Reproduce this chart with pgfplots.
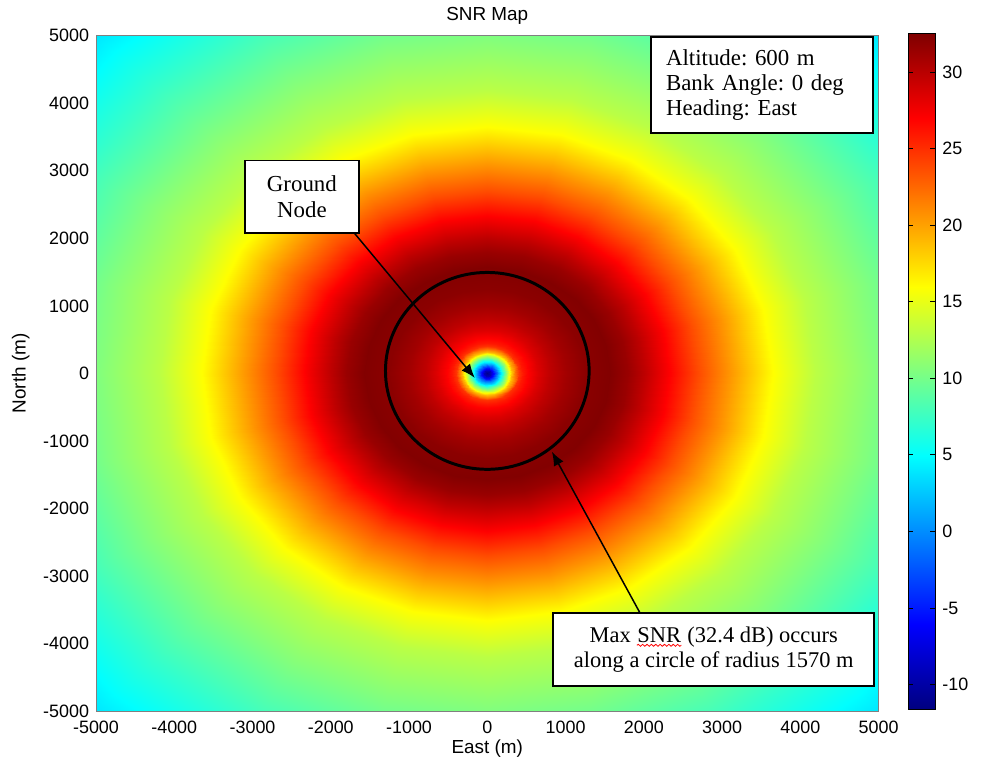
\documentclass[border=0pt]{standalone}
\usepackage{pgfplots}
\pgfplotsset{compat=1.18}
\usepackage{fontspec}
\setmainfont{Liberation Sans}
\newfontfamily\tnr{Liberation Serif}
\usetikzlibrary{arrows.meta,decorations.pathmorphing}
\pgfplotsset{/pgf/number format/1000 sep={}, /pgf/number format/assume math mode=true}
\frenchspacing
\begin{document}
\newsavebox\snrbox
\sbox\snrbox{\tnr\fontsize{11.3}{13}\selectfont\tikz[baseline=(t.base)]{\node[inner sep=0pt](t){SNR};\draw[red,line width=0.4pt,decorate,decoration={snake,amplitude=0.5pt,segment length=2.2pt}] ([yshift=-1.6pt]t.base west) -- ([yshift=-1.6pt]t.base east);}}
\begin{tikzpicture}
\begin{scope}[overlay]
\begin{axis}[
  name=main,
  scale only axis, width=393.5pt, height=339.5pt,
  view={0}{90},
  xmin=-5000, xmax=5000, ymin=-5000, ymax=5000,
  xtick={-5000,-4000,...,5000}, ytick={-5000,-4000,...,5000}, ztick=\empty,
  major tick length=0pt,
  axis line style={line width=0.4pt, black!50},
  tick label style={font=\fontsize{9}{10}\selectfont},
  xticklabel style={yshift=-1.5pt},
  label style={font=\fontsize{9.5}{11}\selectfont},
  xlabel style={yshift=4pt},
  title style={font=\fontsize{9.5}{11}\selectfont, yshift=-4pt},
  title={SNR Map},
  xlabel={East (m)}, ylabel={North (m)},
  colormap/jet, point meta min=-11.6, point meta max=32.5,
  colorbar,
  colorbar style={
    at={(parent axis.north east)}, anchor=north west, xshift=6.5pt, yshift=1pt,
    width=13.5pt,
    ytick={-10,-5,...,30},
    yticklabel pos=right,
    ytick pos=both,
    tick align=inside,
    major tick length=2.5pt,
    tick style={black, line width=0.4pt},
    yticklabel style={font=\fontsize{9}{10}\selectfont},
  },
  clip mode=individual,
]
\addplot3[surf, shader=interp, data cs=polar] table[x=a, y=r, z=z] {
a r z
0 0 -11
0 40 -9.2
0 80 -5.3
0 120 -1.2
0 160 3
0 200 7
0 240 11
0 280 15
0 320 19
0 360 22
0 400 24.8
0 450 26
0 520 27
0 650 28.5
0 800 29.8
0 1000 31
0 1250 32
0 1570 32.4
0 1800 31.4
0 2000 29.9
0 2300 27.3
0 2700 23.7
0 3100 20.5
0 3650 16
0 4200 13
0 5000 10.5
0 6000 7.2
0 7200 3.5

15 0 -11
15 40 -9.2
15 80 -5.3
15 120 -1.2
15 160 3
15 200 7
15 240 11
15 280 15
15 320 19
15 360 22
15 400 24.8
15 450 26
15 520 27
15 650 28.5
15 800 29.8
15 1000 31
15 1250 32
15 1570 32.4
15 1800 31.4
15 2000 29.9
15 2300 27.3
15 2700 23.7
15 3100 20.5
15 3650 16
15 4200 13
15 5000 10.5
15 6000 7.2
15 7200 3.5

30 0 -11
30 40 -9.2
30 80 -5.3
30 120 -1.2
30 160 3
30 200 7
30 240 11
30 280 15
30 320 19
30 360 22
30 400 24.8
30 450 26
30 520 27
30 650 28.5
30 800 29.8
30 1000 31
30 1250 32
30 1570 32.4
30 1800 31.4
30 2000 29.9
30 2300 27.3
30 2700 23.7
30 3100 20.5
30 3650 16
30 4200 13
30 5000 10.5
30 6000 7.2
30 7200 3.5

45 0 -11
45 40 -9.2
45 80 -5.3
45 120 -1.2
45 160 3
45 200 7
45 240 11
45 280 15
45 320 19
45 360 22
45 400 24.8
45 450 26
45 520 27
45 650 28.5
45 800 29.8
45 1000 31
45 1250 32
45 1570 32.4
45 1800 31.4
45 2000 29.9
45 2300 27.3
45 2700 23.7
45 3100 20.5
45 3650 16
45 4200 13
45 5000 10.5
45 6000 7.2
45 7200 3.5

60 0 -11
60 40 -9.2
60 80 -5.3
60 120 -1.2
60 160 3
60 200 7
60 240 11
60 280 15
60 320 19
60 360 22
60 400 24.8
60 450 26
60 520 27
60 650 28.5
60 800 29.8
60 1000 31
60 1250 32
60 1570 32.4
60 1800 31.4
60 2000 29.9
60 2300 27.3
60 2700 23.7
60 3100 20.5
60 3650 16
60 4200 13
60 5000 10.5
60 6000 7.2
60 7200 3.5

75 0 -11
75 40 -9.2
75 80 -5.3
75 120 -1.2
75 160 3
75 200 7
75 240 11
75 280 15
75 320 19
75 360 22
75 400 24.8
75 450 26
75 520 27
75 650 28.5
75 800 29.8
75 1000 31
75 1250 32
75 1570 32.4
75 1800 31.4
75 2000 29.9
75 2300 27.3
75 2700 23.7
75 3100 20.5
75 3650 16
75 4200 13
75 5000 10.5
75 6000 7.2
75 7200 3.5

90 0 -11
90 40 -9.2
90 80 -5.3
90 120 -1.2
90 160 3
90 200 7
90 240 11
90 280 15
90 320 19
90 360 22
90 400 24.8
90 450 26
90 520 27
90 650 28.5
90 800 29.8
90 1000 31
90 1250 32
90 1570 32.4
90 1800 31.4
90 2000 29.9
90 2300 27.3
90 2700 23.7
90 3100 20.5
90 3650 16
90 4200 13
90 5000 10.5
90 6000 7.2
90 7200 3.5

105 0 -11
105 40 -9.2
105 80 -5.3
105 120 -1.2
105 160 3
105 200 7
105 240 11
105 280 15
105 320 19
105 360 22
105 400 24.8
105 450 26
105 520 27
105 650 28.5
105 800 29.8
105 1000 31
105 1250 32
105 1570 32.4
105 1800 31.4
105 2000 29.9
105 2300 27.3
105 2700 23.7
105 3100 20.5
105 3650 16
105 4200 13
105 5000 10.5
105 6000 7.2
105 7200 3.5

120 0 -11
120 40 -9.2
120 80 -5.3
120 120 -1.2
120 160 3
120 200 7
120 240 11
120 280 15
120 320 19
120 360 22
120 400 24.8
120 450 26
120 520 27
120 650 28.5
120 800 29.8
120 1000 31
120 1250 32
120 1570 32.4
120 1800 31.4
120 2000 29.9
120 2300 27.3
120 2700 23.7
120 3100 20.5
120 3650 16
120 4200 13
120 5000 10.5
120 6000 7.2
120 7200 3.5

135 0 -11
135 40 -9.2
135 80 -5.3
135 120 -1.2
135 160 3
135 200 7
135 240 11
135 280 15
135 320 19
135 360 22
135 400 24.8
135 450 26
135 520 27
135 650 28.5
135 800 29.8
135 1000 31
135 1250 32
135 1570 32.4
135 1800 31.4
135 2000 29.9
135 2300 27.3
135 2700 23.7
135 3100 20.5
135 3650 16
135 4200 13
135 5000 10.5
135 6000 7.2
135 7200 3.5

150 0 -11
150 40 -9.2
150 80 -5.3
150 120 -1.2
150 160 3
150 200 7
150 240 11
150 280 15
150 320 19
150 360 22
150 400 24.8
150 450 26
150 520 27
150 650 28.5
150 800 29.8
150 1000 31
150 1250 32
150 1570 32.4
150 1800 31.4
150 2000 29.9
150 2300 27.3
150 2700 23.7
150 3100 20.5
150 3650 16
150 4200 13
150 5000 10.5
150 6000 7.2
150 7200 3.5

165 0 -11
165 40 -9.2
165 80 -5.3
165 120 -1.2
165 160 3
165 200 7
165 240 11
165 280 15
165 320 19
165 360 22
165 400 24.8
165 450 26
165 520 27
165 650 28.5
165 800 29.8
165 1000 31
165 1250 32
165 1570 32.4
165 1800 31.4
165 2000 29.9
165 2300 27.3
165 2700 23.7
165 3100 20.5
165 3650 16
165 4200 13
165 5000 10.5
165 6000 7.2
165 7200 3.5

180 0 -11
180 40 -9.2
180 80 -5.3
180 120 -1.2
180 160 3
180 200 7
180 240 11
180 280 15
180 320 19
180 360 22
180 400 24.8
180 450 26
180 520 27
180 650 28.5
180 800 29.8
180 1000 31
180 1250 32
180 1570 32.4
180 1800 31.4
180 2000 29.9
180 2300 27.3
180 2700 23.7
180 3100 20.5
180 3650 16
180 4200 13
180 5000 10.5
180 6000 7.2
180 7200 3.5

195 0 -11
195 40 -9.2
195 80 -5.3
195 120 -1.2
195 160 3
195 200 7
195 240 11
195 280 15
195 320 19
195 360 22
195 400 24.8
195 450 26
195 520 27
195 650 28.5
195 800 29.8
195 1000 31
195 1250 32
195 1570 32.4
195 1800 31.4
195 2000 29.9
195 2300 27.3
195 2700 23.7
195 3100 20.5
195 3650 16
195 4200 13
195 5000 10.5
195 6000 7.2
195 7200 3.5

210 0 -11
210 40 -9.2
210 80 -5.3
210 120 -1.2
210 160 3
210 200 7
210 240 11
210 280 15
210 320 19
210 360 22
210 400 24.8
210 450 26
210 520 27
210 650 28.5
210 800 29.8
210 1000 31
210 1250 32
210 1570 32.4
210 1800 31.4
210 2000 29.9
210 2300 27.3
210 2700 23.7
210 3100 20.5
210 3650 16
210 4200 13
210 5000 10.5
210 6000 7.2
210 7200 3.5

225 0 -11
225 40 -9.2
225 80 -5.3
225 120 -1.2
225 160 3
225 200 7
225 240 11
225 280 15
225 320 19
225 360 22
225 400 24.8
225 450 26
225 520 27
225 650 28.5
225 800 29.8
225 1000 31
225 1250 32
225 1570 32.4
225 1800 31.4
225 2000 29.9
225 2300 27.3
225 2700 23.7
225 3100 20.5
225 3650 16
225 4200 13
225 5000 10.5
225 6000 7.2
225 7200 3.5

240 0 -11
240 40 -9.2
240 80 -5.3
240 120 -1.2
240 160 3
240 200 7
240 240 11
240 280 15
240 320 19
240 360 22
240 400 24.8
240 450 26
240 520 27
240 650 28.5
240 800 29.8
240 1000 31
240 1250 32
240 1570 32.4
240 1800 31.4
240 2000 29.9
240 2300 27.3
240 2700 23.7
240 3100 20.5
240 3650 16
240 4200 13
240 5000 10.5
240 6000 7.2
240 7200 3.5

255 0 -11
255 40 -9.2
255 80 -5.3
255 120 -1.2
255 160 3
255 200 7
255 240 11
255 280 15
255 320 19
255 360 22
255 400 24.8
255 450 26
255 520 27
255 650 28.5
255 800 29.8
255 1000 31
255 1250 32
255 1570 32.4
255 1800 31.4
255 2000 29.9
255 2300 27.3
255 2700 23.7
255 3100 20.5
255 3650 16
255 4200 13
255 5000 10.5
255 6000 7.2
255 7200 3.5

270 0 -11
270 40 -9.2
270 80 -5.3
270 120 -1.2
270 160 3
270 200 7
270 240 11
270 280 15
270 320 19
270 360 22
270 400 24.8
270 450 26
270 520 27
270 650 28.5
270 800 29.8
270 1000 31
270 1250 32
270 1570 32.4
270 1800 31.4
270 2000 29.9
270 2300 27.3
270 2700 23.7
270 3100 20.5
270 3650 16
270 4200 13
270 5000 10.5
270 6000 7.2
270 7200 3.5

285 0 -11
285 40 -9.2
285 80 -5.3
285 120 -1.2
285 160 3
285 200 7
285 240 11
285 280 15
285 320 19
285 360 22
285 400 24.8
285 450 26
285 520 27
285 650 28.5
285 800 29.8
285 1000 31
285 1250 32
285 1570 32.4
285 1800 31.4
285 2000 29.9
285 2300 27.3
285 2700 23.7
285 3100 20.5
285 3650 16
285 4200 13
285 5000 10.5
285 6000 7.2
285 7200 3.5

300 0 -11
300 40 -9.2
300 80 -5.3
300 120 -1.2
300 160 3
300 200 7
300 240 11
300 280 15
300 320 19
300 360 22
300 400 24.8
300 450 26
300 520 27
300 650 28.5
300 800 29.8
300 1000 31
300 1250 32
300 1570 32.4
300 1800 31.4
300 2000 29.9
300 2300 27.3
300 2700 23.7
300 3100 20.5
300 3650 16
300 4200 13
300 5000 10.5
300 6000 7.2
300 7200 3.5

315 0 -11
315 40 -9.2
315 80 -5.3
315 120 -1.2
315 160 3
315 200 7
315 240 11
315 280 15
315 320 19
315 360 22
315 400 24.8
315 450 26
315 520 27
315 650 28.5
315 800 29.8
315 1000 31
315 1250 32
315 1570 32.4
315 1800 31.4
315 2000 29.9
315 2300 27.3
315 2700 23.7
315 3100 20.5
315 3650 16
315 4200 13
315 5000 10.5
315 6000 7.2
315 7200 3.5

330 0 -11
330 40 -9.2
330 80 -5.3
330 120 -1.2
330 160 3
330 200 7
330 240 11
330 280 15
330 320 19
330 360 22
330 400 24.8
330 450 26
330 520 27
330 650 28.5
330 800 29.8
330 1000 31
330 1250 32
330 1570 32.4
330 1800 31.4
330 2000 29.9
330 2300 27.3
330 2700 23.7
330 3100 20.5
330 3650 16
330 4200 13
330 5000 10.5
330 6000 7.2
330 7200 3.5

345 0 -11
345 40 -9.2
345 80 -5.3
345 120 -1.2
345 160 3
345 200 7
345 240 11
345 280 15
345 320 19
345 360 22
345 400 24.8
345 450 26
345 520 27
345 650 28.5
345 800 29.8
345 1000 31
345 1250 32
345 1570 32.4
345 1800 31.4
345 2000 29.9
345 2300 27.3
345 2700 23.7
345 3100 20.5
345 3650 16
345 4200 13
345 5000 10.5
345 6000 7.2
345 7200 3.5

360 0 -11
360 40 -9.2
360 80 -5.3
360 120 -1.2
360 160 3
360 200 7
360 240 11
360 280 15
360 320 19
360 360 22
360 400 24.8
360 450 26
360 520 27
360 650 28.5
360 800 29.8
360 1000 31
360 1250 32
360 1570 32.4
360 1800 31.4
360 2000 29.9
360 2300 27.3
360 2700 23.7
360 3100 20.5
360 3650 16
360 4200 13
360 5000 10.5
360 6000 7.2
360 7200 3.5
};
\coordinate (bl) at (rel axis cs:0,0,0);
\draw[line width=1.5pt] (axis cs:0,37,0) ellipse [x radius=51.2pt, y radius=49.5pt];
\draw[line width=0.75pt, -{Latex[length=7pt,width=5.5pt]}] (axis cs:-1697,2075,0) -- (axis cs:-160,-66,0);
\draw[line width=0.75pt, -{Latex[length=7pt,width=5.5pt]}] (axis cs:1953,-3552,0) -- (axis cs:826,-1160,0);
\node[draw, line width=0.8pt, fill=white, minimum width=57.5pt, minimum height=36.5pt, inner sep=0pt, align=center, font=\tnr\fontsize{11.5}{13}\selectfont] at (axis cs:-2369,2615,0) {Ground\\Node};
\node[draw, line width=1pt, fill=white, anchor=north west, text width=96.5pt, inner xsep=7.5pt, minimum height=48.5pt, align=left, font=\tnr\fontsize{11.5}{12.5}\selectfont] at (axis cs:2081,5000,0) {Altitude: 600 m\\Bank Angle: 0 deg\\Heading: East};
\node[draw, line width=1pt, fill=white, minimum width=161.5pt, minimum height=36.5pt, inner sep=0pt, align=center, font=\tnr\fontsize{11.3}{13}\selectfont] at (axis cs:2894,-4092,0) {Max \usebox\snrbox{} (32.4 dB) occurs\\along a circle of radius 1570 m};
\end{axis}
\end{scope}
\path (bl) ++(-45.5pt,-27pt) rectangle ++(491pt,384.5pt);
\end{tikzpicture}
\end{document}
